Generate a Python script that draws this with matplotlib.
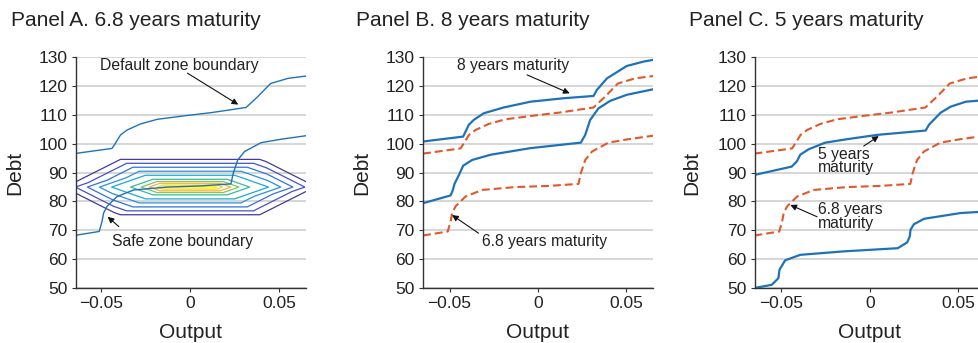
import matplotlib
matplotlib.use('Agg')
import matplotlib.pyplot as plt
import matplotlib.tri as mtri

plt.rcParams['font.family'] = ['Liberation Sans', 'DejaVu Sans']

BLUE = '#1f72b8'
ORANGE = '#e0592a'

# 6.8 years maturity boundaries (panel A, dashed in B and C)
default_x = [-0.065, -0.0438, -0.0419, -0.039, -0.0353, -0.0278, -0.0184, -0.0034,
             0.0117, 0.0314, 0.038, 0.0451, 0.0549, 0.065]
default_y = [96.6, 98.4, 100.2, 103.1, 104.8, 106.9, 108.5, 109.7,
             110.8, 112.6, 116.4, 120.9, 122.7, 123.5]
safe_x = [-0.065, -0.051, -0.0494, -0.0485, -0.0466, -0.041, -0.0316, -0.0128,
          0.006, 0.0229, 0.0242, 0.0267, 0.0305, 0.0398, 0.0511, 0.065]
safe_y = [68.2, 69.6, 73.1, 76.0, 78.3, 81.7, 84.0, 85.0,
          85.4, 86.1, 89.8, 94.4, 97.3, 100.4, 101.6, 102.8]

# 8 years maturity (panel B)
b_upper_x = [-0.065, -0.0423, -0.041, -0.0391, -0.0363, -0.0306, -0.0194, -0.0043,
             0.0145, 0.0314, 0.0333, 0.039, 0.0502, 0.0596, 0.065]
b_upper_y = [100.8, 102.5, 104.2, 106.6, 108.3, 110.6, 112.6, 114.6,
             115.8, 116.6, 118.7, 122.7, 127.0, 128.5, 129.1]
b_lower_x = [-0.065, -0.0494, -0.0481, -0.0472, -0.0447, -0.0423, -0.0372, -0.0269,
             -0.0043, 0.0242, 0.0267, 0.0276, 0.0295, 0.0342, 0.0408, 0.0502, 0.065]
b_lower_y = [79.4, 82.1, 84.0, 86.1, 89.2, 92.4, 94.4, 96.2,
             98.5, 100.4, 103.1, 104.8, 108.3, 112.3, 114.9, 117.0, 118.9]

# 5 years maturity (panel C)
c_upper_x = [-0.065, -0.044, -0.0411, -0.0392, -0.0345, -0.0251, -0.0128, 0.0042,
             0.0315, 0.0334, 0.04, 0.0457, 0.0542, 0.0621, 0.065]
c_upper_y = [89.2, 92.1, 93.9, 96.2, 98.1, 100.4, 101.6, 103.1,
             104.6, 106.6, 110.8, 112.9, 114.6, 115.0, 115.1]
c_lower_x = [-0.065, -0.0553, -0.0515, -0.0509, -0.0477, -0.0392, -0.0147, 0.0158,
             0.0211, 0.0226, 0.023, 0.0249, 0.0306, 0.0513, 0.065]
c_lower_y = [50.0, 51.1, 53.4, 56.3, 59.6, 61.5, 62.7, 63.8,
             65.8, 67.9, 70.2, 72.1, 74.0, 76.0, 76.5]

# coarse density mesh for the state distribution (panel A contours):
# ridge at the mode, an inner ring at half density, an outer ring at zero
dens_x = [-0.013, 0.013,
          0.044, 0.025, -0.025, -0.044, -0.025, 0.025,
          0.077, 0.0422, -0.0422, -0.077, -0.0422, 0.0422]
dens_y = [85, 85,
          85, 89.1, 89.1, 85, 80.9, 80.9,
          85, 95.82, 95.82, 85, 74.18, 74.18]
dens_z = [1, 1,
          0.55, 0.55, 0.55, 0.55, 0.55, 0.55,
          0, 0, 0, 0, 0, 0]
dens_tri = [[1, 2, 3], [1, 3, 4], [1, 4, 0], [0, 4, 5], [0, 5, 6], [0, 6, 1], [1, 6, 7], [1, 7, 2],
            [2, 8, 9], [2, 9, 3], [3, 9, 10], [3, 10, 4], [4, 10, 11], [4, 11, 5],
            [5, 11, 12], [5, 12, 6], [6, 12, 13], [6, 13, 7], [7, 13, 8], [7, 8, 2]]
dens_levels = [0.1, 0.211, 0.323, 0.436, 0.55, 0.704, 0.791, 0.857, 0.923, 0.97]
dens_colors = ['#45399c', '#4452c6', '#3471dc', '#2a90e0', '#1aabd2', '#35bba0',
               '#84c55e', '#f0b63a', '#f7d52c', '#f9f310']

y_ticks = [50, 60, 70, 80, 90, 100, 110, 120, 130]
x_ticks = [-0.05, 0, 0.05]
x_labels = ['\u22120.05', '0', '0.05']

W, H = 979, 343
fig = plt.figure(figsize=(W / 100, H / 100), dpi=100)

panel_left = [76, 423, 755]
panel_xlim = [(-0.064, 0.065), (-0.065, 0.065), (-0.0647, 0.065)]
titles = ['Panel A. 6.8 years maturity', 'Panel B. 8 years maturity', 'Panel C. 5 years maturity']
title_x = [11, 356, 689]
label_pos = [-0.265, -0.268, -0.274]

axes = []
for i in range(3):
    ax = fig.add_axes([panel_left[i] / W, 55 / H, 230 / W, 230.7 / H])
    ax.set_xlim(*panel_xlim[i])
    ax.set_ylim(50, 130)
    ax.set_yticks(y_ticks)
    ax.set_xticks(x_ticks)
    ax.set_xticklabels(x_labels)
    ax.grid(axis='y', color='#cfcfcf', lw=1.2)
    ax.set_axisbelow(True)
    for s in ['top', 'right']:
        ax.spines[s].set_visible(False)
    for s in ['left', 'bottom']:
        ax.spines[s].set_color('#333333')
        ax.spines[s].set_linewidth(1.0)
    ax.tick_params(direction='out', length=3, width=0.8, color='#333333',
                   labelsize=12.5, labelcolor='#222222', pad=3)
    ax.set_ylabel('Debt', fontsize=15, color='#222222')
    ax.yaxis.set_label_coords(label_pos[i], 0.5)
    ax.yaxis.label.set_verticalalignment('center')
    ax.set_xlabel('Output', fontsize=15, color='#222222')
    ax.xaxis.set_label_coords(0.5, -0.195)
    ax.xaxis.label.set_verticalalignment('center')
    fig.text(title_x[i] / W, 1 - 21 / H, titles[i], fontsize=15, color='#222222',
             ha='left', va='center')
    axes.append(ax)

arrow = dict(arrowstyle='-|>', lw=0.8, color='#111111', mutation_scale=9,
             shrinkA=0, shrinkB=0)
note = dict(fontsize=11.3, color='#222222')

# Panel A
ax = axes[0]
tri = mtri.Triangulation(dens_x, dens_y, dens_tri)
ax.tricontour(tri, dens_z, levels=dens_levels, colors=dens_colors, linewidths=0.9)
ax.plot(default_x, default_y, color=BLUE, lw=1.0)
ax.plot(safe_x, safe_y, color=BLUE, lw=1.0)
ax.text(-0.006, 127, 'Default zone boundary', ha='center', va='center', **note)
ax.annotate('', xy=(0.027, 113.6), xytext=(-0.0015, 124.5), arrowprops=arrow)
ax.text(-0.004, 66.1, 'Safe zone boundary', ha='center', va='center', **note)
ax.annotate('', xy=(-0.0462, 74.7), xytext=(-0.040, 71.3), arrowprops=arrow)

# Panel B
ax = axes[1]
ax.plot(default_x, default_y, color=ORANGE, lw=1.5, dashes=(3.8, 1.9))
ax.plot(safe_x, safe_y, color=ORANGE, lw=1.5, dashes=(3.8, 1.9))
ax.plot(b_upper_x, b_upper_y, color=BLUE, lw=1.6)
ax.plot(b_lower_x, b_lower_y, color=BLUE, lw=1.6)
ax.text(-0.0141, 127, '8 years maturity', ha='center', va='center', **note)
ax.annotate('', xy=(0.0179, 117.5), xytext=(-0.0062, 123.9), arrowprops=arrow)
ax.text(0.0036, 66.1, '6.8 years maturity', ha='center', va='center', **note)
ax.annotate('', xy=(-0.0486, 75.3), xytext=(-0.0336, 69.0), arrowprops=arrow)

# Panel C
ax = axes[2]
ax.plot(default_x, default_y, color=ORANGE, lw=1.5, dashes=(3.8, 1.9))
ax.plot(safe_x, safe_y, color=ORANGE, lw=1.5, dashes=(3.8, 1.9))
ax.plot(c_upper_x, c_upper_y, color=BLUE, lw=1.6)
ax.plot(c_lower_x, c_lower_y, color=BLUE, lw=1.6)
ax.text(-0.029, 94.1, '5 years\nmaturity', ha='left', va='center', linespacing=0.85, **note)
ax.annotate('', xy=(0.0051, 102.7), xytext=(-0.0034, 99.2), arrowprops=arrow)
ax.text(-0.029, 74.8, '6.8 years\nmaturity', ha='left', va='center', linespacing=0.85, **note)
ax.annotate('', xy=(-0.0448, 78.8), xytext=(-0.0297, 74.7), arrowprops=arrow)

fig.savefig('out.png', dpi=100)
plt.close(fig)
